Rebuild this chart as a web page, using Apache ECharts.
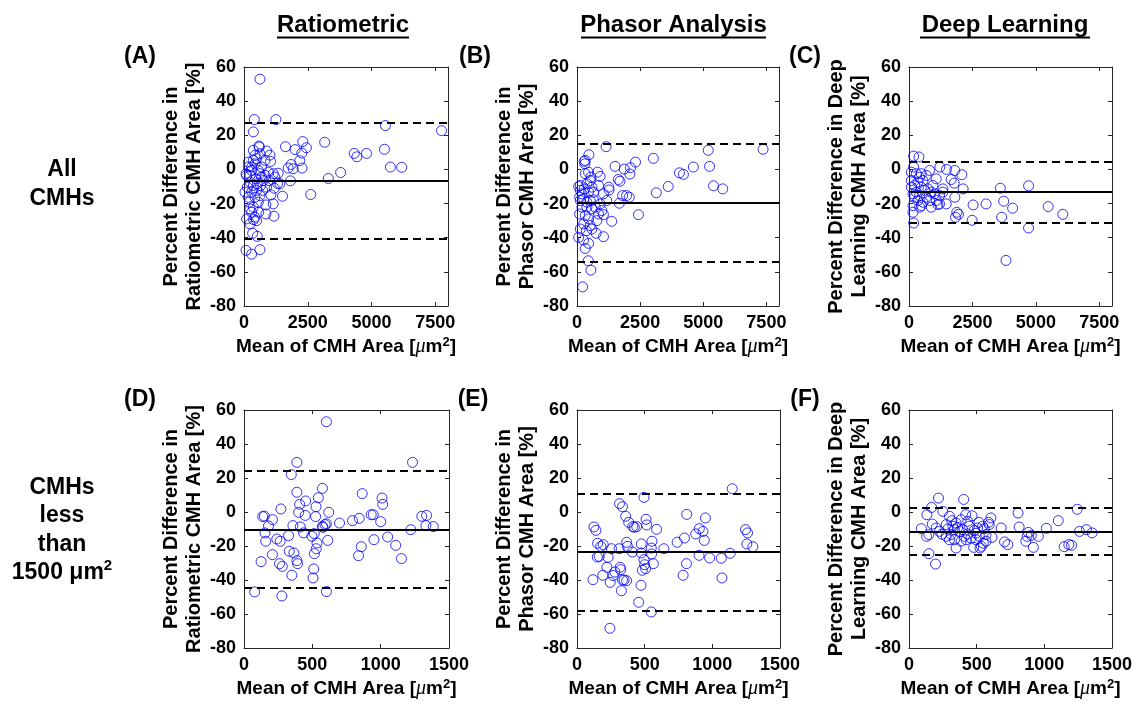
<!DOCTYPE html>
<html><head><meta charset="utf-8">
<script src="https://cdn.jsdelivr.net/npm/echarts@6/dist/echarts.min.js"></script>
<style>html,body{margin:0;padding:0;background:#fff}#c{width:1141px;height:708px}</style>
</head><body><div id="c"></div><script>
// ---------- DATA ----------
const columnTitles = ['Ratiometric', 'Phasor Analysis', 'Deep Learning'];
const panelLabels = ['(A)', '(B)', '(C)', '(D)', '(E)', '(F)'];
const rowLabels = ['All\nCMHs', 'CMHs\nless\nthan\n1500 μm{sup|2}'];
const yNames = [
  'Percent Difference in\nRatiometric CMH Area [%]',
  'Percent Difference in\nPhasor CMH Area [%]',
  'Percent Difference in Deep\nLearning CMH Area [%]'
];
const xName = 'Mean of CMH Area [{mu|μ}m{sup|2}]';
const xTicksAll = [0, 2500, 5000, 7500];
const xTicksSmall = [0, 500, 1000, 1500];
const yTicks = [-80, -60, -40, -20, 0, 20, 40, 60];

// [mean, upper LoA, lower LoA]
const statsA = [-6.5, 27.6, -40.8];
const statsB = [-19.5, 15.3, -54.1];
const statsC = [-13.3, 4.5, -31.2];
const statsD = [-10.2, 24.3, -44.7];
const statsE = [-23.5, 10.8, -57.8];
const statsF = [-11.5, 2.4, -25.3];

const ptsA = [[625,52.9],[404,29.2],[1250,29.2],[365,22],[5547,25.7],[7747,22.7],[586,13.7],[365,11.2],[885,10.8],[1016,8.4],[1627,13.3],[2005,11.6],[2304,16.3],[2447,12.7],[3164,15.9],[2265,9.6],[2187,5.1],[1041,4.7],[4323,9.4],[4427,7.4],[4804,9.4],[5508,11.8],[5742,1.4],[6185,1.2],[3789,-1.8],[3307,-5.3],[2617,-14.7],[1849,2.9],[1927,0.4],[1732,0.8],[2278,0.8],[1823,-6.7],[1341,-2.2],[1315,-8.2],[1185,-11],[1054,-14.9],[1510,-15.7],[1146,-20.2],[859,-20.8],[859,-26.1],[1172,-27.4],[573,-25.1],[495,-30],[377,-29.4],[234,-31.9],[339,-37.4],[521,-39.2],[78,-47.4],[299,-49.6],[625,-47],
[169,1.4],[234,-3.5],[104,-3.5],[365,5.3],[495,6.3],[430,3.3],[299,-0.6],[560,-0.6],[625,-2.5],[690,-4.5],[469,-5.5],[234,-7.4],[130,-10.4],[365,-9.4],[521,-8.4],[651,-9.4],[755,-6.5],[820,-3.5],[950,-1.6],[495,-12.3],[299,-13.3],[169,-16.3],[430,-16.3],[625,-15.3],[560,-19.2],[365,-22.1],[234,-23.1],[104,-29],[299,-25.1],[729,-12.3],[885,-10.4],[990,-6.5],[1146,-2.5],[1211,-4.5],[1406,-8.4],[430,8.2],[625,9.2],[299,1.4],[690,1.4],[169,4.3],[78,-2.5],[39,-13.3],[208,-19.2],[430,-28],[820,5.3],[599,13.1]];

const ptsB = [[7369,11.8],[1152,13.3],[5197,11.2],[5249,1.8],[5406,-9.6],[5772,-11.4],[4608,1.4],[4058,-2],[4215,-2.9],[3024,6.5],[2317,4.3],[2121,1],[2095,-2.7],[1872,0.2],[1506,1.8],[3613,-10],[3142,-13.7],[2435,-26.5],[1702,-6.9],[1636,-5.9],[1963,-15.3],[1807,-15.3],[2068,-16.3],[1676,-19.8],[1374,-30.4],[1257,-10.4],[1270,-12],[916,-4.1],[811,-1.6],[471,8.6],[288,4.7],[314,3.3],[327,-2.5],[65,-10],[131,-12.3],[524,-6.5],[851,-9.4],[1047,-14.3],[1178,-18.2],[982,-24.1],[1047,-26.5],[759,-37.4],[1047,-39.4],[65,-39.8],[262,-41.4],[458,-43.3],[327,-46.3],[445,-53.5],[550,-59],[223,-68.8],
[131,-18.2],[262,-17.2],[393,-19.2],[524,-18.2],[655,-17.8],[196,-22.1],[393,-22.1],[589,-23.1],[105,-26.1],[327,-27],[458,-29],[262,-31.9],[524,-32.9],[131,-34.9],[367,-35.9],[589,-34.9],[785,-30],[851,-26.1],[720,-22.1],[916,-20.2],[458,-13.3],[288,-11.4],[196,-14.3],[589,-10.4],[655,-13.3],[393,-8.4],[550,-4.5],[105,-16.3],[327,5.3],[458,-1.6],[131,-9.4]];

const ptsC = [[3822,-53.3],[4712,-34.3],[4712,-9.6],[3600,-11],[3731,-18.6],[4084,-22.7],[3652,-28],[5485,-21.8],[6061,-26.3],[3037,-20.2],[2526,-20.8],[2487,-29.8],[1833,-28],[1950,-26.3],[1885,-25.1],[1806,-16.3],[2134,-11.4],[2081,-3.1],[1662,-5.9],[1780,-8],[1806,-0.6],[1479,0],[1217,1.4],[812,-0.6],[1073,-5.5],[1335,-11.4],[1466,-20.2],[1139,-20.6],[877,-22.1],[484,-21.2],[157,-25.1],[183,-31.4],[183,7.8],[393,7.3],[183,1.4],[92,-1.6],
[288,-2.5],[419,-4.5],[550,-6.5],[353,-7.4],[223,-9.4],[92,-10.4],[484,-10.4],[615,-12.3],[746,-11.4],[877,-13.3],[1008,-14.3],[288,-13.3],[157,-14.3],[419,-15.3],[681,-16.3],[812,-18.2],[550,-19.2],[353,-18.2],[1204,-15.3],[1335,-13.3],[942,-9.4],[681,-3.5],[484,-2.5],[1073,-18.2],[1204,-20.2],[223,-16.3],[92,-6.5],[157,-21.2],[419,-22.1]];

const ptsD = [[603,53.1],[387,29.2],[1233,29.2],[346,22],[387,11.6],[574,13.9],[544,8.4],[451,6.5],[407,4.5],[527,3.1],[400,-0.2],[448,-2],[524,-2.7],[620,-0.2],[270,1.8],[208,-4.5],[137,-2.7],[149,-2.4],[179,-8.2],[154,-12.3],[159,-17.2],[240,-15.9],[265,-17.2],[326,-13.9],[358,-8],[412,-8.8],[436,-12.3],[497,-14.3],[514,-12.7],[578,-9],[593,-7.4],[603,-6.9],[574,-8.4],[613,-16.7],[534,-18.2],[529,-21.6],[515,-24.5],[331,-23.1],[365,-24.1],[387,-28.6],[392,-30.4],[208,-25.1],[260,-30.4],[280,-32],[125,-29.2],[350,-37.2],[510,-33.5],[505,-38.8],[603,-46.8],[78,-47],[277,-49.4],[699,-6.5],[794,-5.1],[843,-3.7],[931,-1.6],[946,-1.6],[865,10.8],[1010,8.2],[1015,4.5],[1000,-5.7],[951,-16.3],[858,-20.4],[838,-25.7],[1051,-14.7],[1110,-19.6],[1152,-27.4],[1221,-10.4],[1301,-2.5],[1336,-2],[1331,-8],[1385,-8.6]];

const ptsE = [[1147,13.7],[495,8.6],[314,4.9],[336,3.1],[360,-2.5],[382,-6.1],[412,-8.6],[424,-9],[441,-8.6],[510,-4.3],[515,-7.6],[588,-10.2],[811,-1.4],[949,-3.5],[904,-9.8],[931,-11.4],[877,-12.9],[941,-16.7],[794,-15.3],[740,-17.8],[1245,-10.4],[1260,-12.3],[1255,-18.8],[1299,-20.4],[125,-8.8],[140,-10.8],[152,-18.4],[194,-19.2],[176,-20.2],[164,-26.1],[150,-26.5],[255,-21.6],[230,-26.7],[311,-21.6],[367,-17.8],[372,-20.2],[409,-23.5],[475,-18.8],[475,-24.1],[554,-17.2],[549,-21.2],[551,-24.7],[642,-21.6],[495,-28],[500,-31],[507,-33.3],[483,-34.3],[564,-30.4],[221,-32.5],[279,-35.3],[267,-37.4],[245,-41.4],[191,-37.2],[118,-39.8],[319,-32.5],[323,-33.9],[336,-40],[348,-40],[367,-40.4],[328,-46.3],[473,-43.1],[456,-53.1],[549,-58.8],[243,-68.4],[902,-25.5],[980,-27],[1066,-27.2],[1132,-24.3],[1071,-38.8],[809,-30.4],[784,-37.2]];

const ptsF = [[218,8.2],[404,7.4],[167,2.7],[132,-1.6],[172,-7.1],[250,0.4],[299,-2.5],[316,-5.1],[419,-1.6],[466,-2.2],[517,-6.1],[605,-3.5],[588,-6.1],[806,-0.6],[814,-8.8],[681,-9.4],[1103,-5.1],[1243,1.6],[1015,-9.6],[91,-9.8],[130,-14.3],[147,-13.3],[243,-13.1],[287,-10],[311,-13.3],[336,-16.3],[348,-21.2],[373,-11.4],[409,-14.3],[434,-12.9],[483,-10.8],[495,-12.5],[478,-20.8],[525,-21.2],[534,-20.2],[549,-18.4],[569,-17.2],[613,-14.9],[147,-24.5],[196,-30.6],[706,-17.6],[730,-19.2],[863,-17.2],[873,-14.3],[882,-12],[904,-13.7],[919,-20.8],[956,-14.3],[1147,-20.4],[1181,-19.2],[1201,-19.6],[1260,-11.4],[1311,-10.4],[1353,-12.3],
[275,-7.4],[324,-8.4],[360,-9],[397,-10.4],[446,-8.4],[507,-9.4],[556,-9.8],[593,-7.4],[544,-8.4],[422,-16.3],[458,-15.3],[336,-10.4],[275,-14.3],[225,-11.4],[201,-9.4],[299,-16.3],[385,-17.2],[569,-13.3],[520,-14.3],[495,-16.3],[348,-6.5],[434,-5.5],[385,-4.5]];

// ---------- BUILD ----------
const FONT = 'Liberation Sans, Arial, sans-serif';
const AX = '#262626';
const panels = [
  {pts: ptsA, stats: statsA, ticks: xTicksAll, yName: yNames[0], rect: [244, 67, 204, 239]},
  {pts: ptsB, stats: statsB, ticks: xTicksAll, yName: yNames[1], rect: [577, 67, 202, 239]},
  {pts: ptsC, stats: statsC, ticks: xTicksAll, yName: yNames[2], rect: [909, 67, 203, 239]},
  {pts: ptsD, stats: statsD, ticks: xTicksSmall, yName: yNames[0], rect: [244, 410, 205, 238]},
  {pts: ptsE, stats: statsE, ticks: xTicksSmall, yName: yNames[1], rect: [577, 410, 203, 238]},
  {pts: ptsF, stats: statsF, ticks: xTicksSmall, yName: yNames[2], rect: [909, 410, 203, 238]}
];
const xMaxAll = 8000;

const grid = [], xAxis = [], yAxis = [], series = [];
panels.forEach((p, i) => {
  const [l, t, w, h] = p.rect;
  grid.push({left: l, top: t, width: w, height: h, containLabel: false});
  const xInt = p.ticks[1] - p.ticks[0];
  const xMax = p.ticks === xTicksAll ? xMaxAll : p.ticks[p.ticks.length - 1];
  const tickStyle = {show: true, inside: true, length: 4, lineStyle: {color: AX, width: 1}};
  const lineStyle = {show: true, onZero: false, lineStyle: {color: AX, width: 1}};
  xAxis.push({
    type: 'value', gridIndex: i, min: 0, max: xMax, interval: xInt, position: 'bottom',
    axisLine: lineStyle, axisTick: tickStyle, splitLine: {show: false},
    axisLabel: {fontSize: 18, fontWeight: 'bold', color: '#000', fontFamily: FONT, margin: 8,
      formatter: v => p.ticks.indexOf(v) >= 0 ? String(v) : ''},
    name: xName, nameLocation: 'middle', nameGap: 30,
    nameTextStyle: {fontSize: 19, fontWeight: 'bold', color: '#000', fontFamily: FONT,
      rich: {
        mu: {fontSize: 20, fontStyle: 'italic', fontWeight: 'normal', fontFamily: 'Liberation Serif, serif', color: '#000'},
        sup: {fontSize: 13, fontWeight: 'bold', fontFamily: FONT, color: '#000', verticalAlign: 'top', padding: [0, 0, 8, 0]}
      }}
  });
  xAxis.push({
    type: 'value', gridIndex: i, min: 0, max: xMax, interval: xInt, position: 'top',
    axisLine: lineStyle, axisTick: tickStyle, splitLine: {show: false}, axisLabel: {show: false}
  });
  yAxis.push({
    type: 'value', gridIndex: i, min: -80, max: 60, interval: 20, position: 'left',
    axisLine: lineStyle, axisTick: tickStyle, splitLine: {show: false},
    axisLabel: {fontSize: 18, fontWeight: 'bold', color: '#000', fontFamily: FONT, margin: 8,
      formatter: v => yTicks.indexOf(v) >= 0 ? String(v) : ''},
    name: p.yName, nameLocation: 'middle', nameGap: 38,
    nameTextStyle: {fontSize: 20, fontWeight: 'bold', color: '#000', fontFamily: FONT, lineHeight: 23}
  });
  yAxis.push({
    type: 'value', gridIndex: i, min: -80, max: 60, interval: 20, position: 'right',
    axisLine: lineStyle, axisTick: tickStyle, splitLine: {show: false}, axisLabel: {show: false}
  });
  series.push({
    type: 'scatter', xAxisIndex: 2 * i, yAxisIndex: 2 * i,
    data: p.pts, symbol: 'circle', symbolSize: 10,
    itemStyle: {color: 'rgba(0,0,0,0)', borderColor: '#0000ff', borderWidth: 1},
    emphasis: {disabled: true},
    markLine: {
      silent: true, symbol: 'none', animation: false, label: {show: false},
      lineStyle: {color: '#000', width: 2},
      data: [
        {yAxis: p.stats[0], lineStyle: {type: 'solid', color: '#000', width: 2}},
        {yAxis: p.stats[1], lineStyle: {type: [8, 5], color: '#000', width: 2}},
        {yAxis: p.stats[2], lineStyle: {type: [8, 5], color: '#000', width: 2}}
      ]
    }
  });
});

const titleX = [343, 673.5, 1005];
const titleHalfW = [66, 92.5, 85];
const labelPos = [[140, 57], [475, 57], [805, 57], [140, 400], [473, 400], [805, 400]];
const graphic = [];
columnTitles.forEach((t, i) => {
  graphic.push({type: 'text', x: titleX[i], y: 25, style: {text: t, fontSize: 24, fontWeight: 'bold', fontFamily: FONT, fill: '#000', align: 'center', verticalAlign: 'middle'}});
  graphic.push({type: 'line', shape: {x1: titleX[i] - titleHalfW[i], y1: 37.5, x2: titleX[i] + titleHalfW[i], y2: 37.5}, style: {stroke: '#000', lineWidth: 2}});
});
panelLabels.forEach((t, i) => {
  graphic.push({type: 'text', x: labelPos[i][0], y: labelPos[i][1], style: {text: t, fontSize: 23, fontWeight: 'bold', fontFamily: FONT, fill: '#000', align: 'center', verticalAlign: 'middle'}});
});
const rowY = [184, 530];
rowLabels.forEach((t, i) => {
  graphic.push({type: 'text', x: 62, y: rowY[i], style: {text: t, fontSize: 23, fontWeight: 'bold', fontFamily: FONT, fill: '#000', align: 'center', verticalAlign: 'middle', lineHeight: 28.5,
    rich: {sup: {fontSize: 15, fontWeight: 'bold', fontFamily: FONT, fill: '#000', verticalAlign: 'top', lineHeight: 28.5, padding: [0, 0, 10, 0]}}}});
});

const chart = echarts.init(document.getElementById('c'), null, {renderer: 'canvas'});
chart.setOption({animation: false, backgroundColor: '#fff', grid, xAxis, yAxis, series, graphic});
</script></body></html>
